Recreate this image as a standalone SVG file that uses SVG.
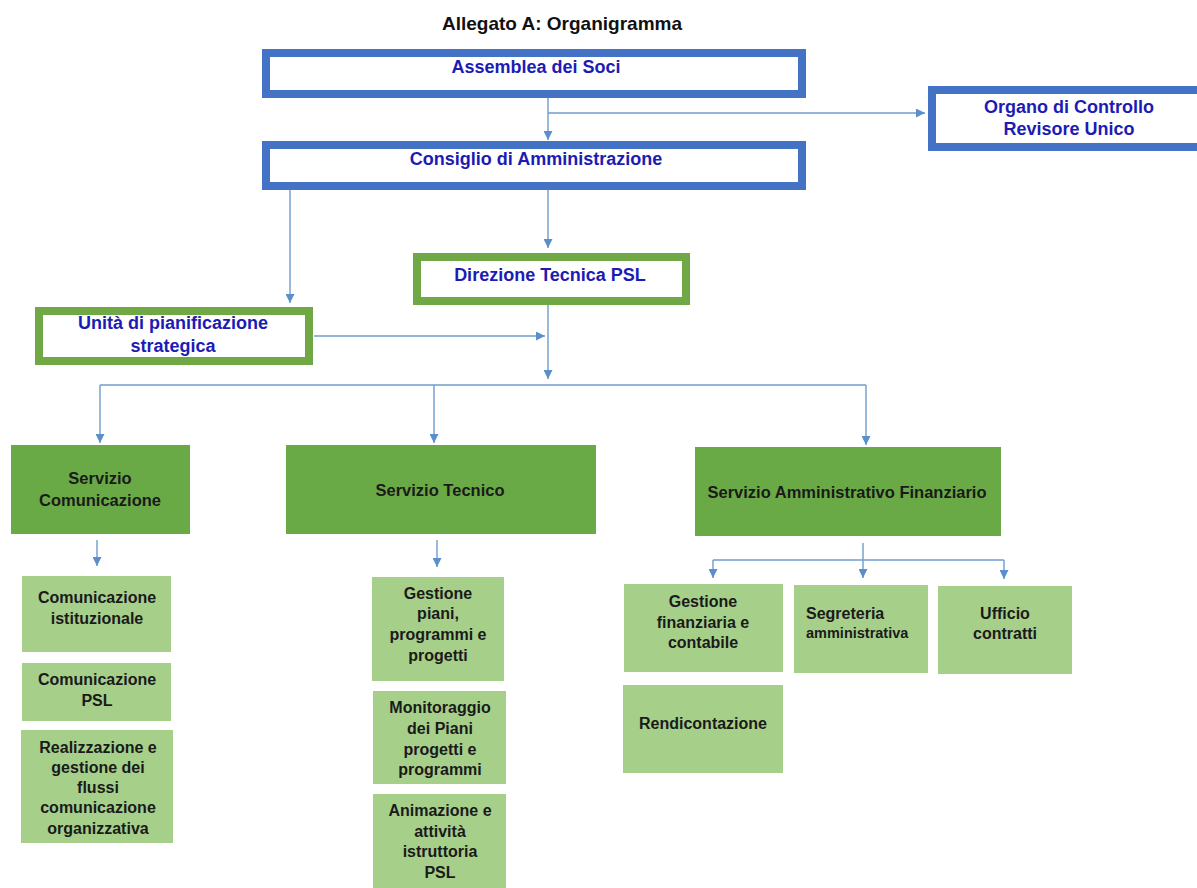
<svg xmlns="http://www.w3.org/2000/svg" width="1197" height="888" viewBox="0 0 1197 888">
<style>
text{font-family:"Liberation Sans",Arial,sans-serif;font-weight:bold;text-anchor:middle}
.title{font-size:19px;fill:#111}
.bt{font-size:18px;fill:#1c1cb4}
.blue{fill:#fff;stroke:#4472c4;stroke-width:8}
.gout{fill:#fff;stroke:#6fa844;stroke-width:8}
.svc{fill:#6aaa46}
.leaf{fill:#a6cf8a}
.st{font-size:16.5px;fill:#1a1a1a}
.lt{font-size:16px;fill:#1a1a1a}
.c{fill:none;stroke:#6e9ccc;stroke-width:1.4}
</style>
<defs>
<marker id="ah" viewBox="0 0 10 10" refX="10" refY="5" markerWidth="9" markerHeight="9" markerUnits="userSpaceOnUse" orient="auto">
<path d="M0,0 L10,5 L0,10 z" fill="#5b8fc9"/>
</marker>
</defs>
<rect width="1197" height="888" fill="#fff"/>
<text class="title" x="562" y="30">Allegato A: Organigramma</text>

<g id="connectors">
<path class="c" d="M548,98 V140" marker-end="url(#ah)"/>
<path class="c" d="M548,113 H925" marker-end="url(#ah)"/>
<path class="c" d="M290,190 V303" marker-end="url(#ah)"/>
<path class="c" d="M548,190 V248" marker-end="url(#ah)"/>
<path class="c" d="M548,305 V379" marker-end="url(#ah)"/>
<path class="c" d="M314,336 H545" marker-end="url(#ah)"/>
<path class="c" d="M100,385 H866"/>
<path class="c" d="M100,385 V443" marker-end="url(#ah)"/>
<path class="c" d="M434,385 V443" marker-end="url(#ah)"/>
<path class="c" d="M866,385 V445" marker-end="url(#ah)"/>
<path class="c" d="M97,540 V566" marker-end="url(#ah)"/>
<path class="c" d="M437,540 V567" marker-end="url(#ah)"/>
<path class="c" d="M863,543 V578" marker-end="url(#ah)"/>
<path class="c" d="M713,560 H1004"/>
<path class="c" d="M713,560 V578" marker-end="url(#ah)"/>
<path class="c" d="M1004,560 V579" marker-end="url(#ah)"/>
</g>

<g id="assemblea"><rect class="blue" x="266" y="53" width="536" height="41"/><text class="bt" x="536" y="73">Assemblea dei Soci</text></g>
<g id="consiglio"><rect class="blue" x="266" y="145" width="536" height="41"/><text class="bt" x="536" y="165">Consiglio di Amministrazione</text></g>
<g id="organo"><rect class="blue" x="932" y="90" width="273" height="57"/><text class="bt" x="1069" y="113">Organo di Controllo</text><text class="bt" x="1069" y="135">Revisore Unico</text></g>
<g id="direzione"><rect class="gout" x="417" y="257" width="269" height="44"/><text class="bt" x="550" y="281">Direzione Tecnica PSL</text></g>
<g id="unita"><rect class="gout" x="39" y="311" width="270" height="50"/><text class="bt" x="173" y="329">Unità di pianificazione</text><text class="bt" x="173" y="352">strategica</text></g>

<g id="serv-com"><rect class="svc" x="11" y="445" width="179" height="89"/><text class="st" x="100" y="484">Servizio</text><text class="st" x="100" y="506">Comunicazione</text></g>
<g id="serv-tec"><rect class="svc" x="286" y="445" width="310" height="89"/><text class="st" x="440" y="496">Servizio Tecnico</text></g>
<g id="serv-amm"><rect class="svc" x="695" y="447" width="306" height="89"/><text class="st" x="847" y="498">Servizio Amministrativo Finanziario</text></g>

<g id="com-ist"><rect class="leaf" x="22" y="576" width="149" height="76"/><text class="lt" x="97" y="603">Comunicazione</text><text class="lt" x="97" y="624">istituzionale</text></g>
<g id="com-psl"><rect class="leaf" x="22" y="663" width="149" height="58"/><text class="lt" x="97" y="685">Comunicazione</text><text class="lt" x="97" y="706">PSL</text></g>
<g id="realizzazione"><rect class="leaf" x="21" y="730" width="152" height="113"/><text class="lt" x="98" y="753">Realizzazione e</text><text class="lt" x="98" y="773">gestione dei</text><text class="lt" x="98" y="793">flussi</text><text class="lt" x="98" y="813">comunicazione</text><text class="lt" x="98" y="834">organizzativa</text></g>

<g id="gestione-piani"><rect class="leaf" x="372" y="577" width="132" height="104"/><text class="lt" x="438" y="599">Gestione</text><text class="lt" x="438" y="619">piani,</text><text class="lt" x="438" y="640">programmi e</text><text class="lt" x="438" y="661">progetti</text></g>
<g id="monitoraggio"><rect class="leaf" x="373" y="691" width="133" height="93"/><text class="lt" x="440" y="713">Monitoraggio</text><text class="lt" x="440" y="734">dei Piani</text><text class="lt" x="440" y="755">progetti e</text><text class="lt" x="440" y="775">programmi</text></g>
<g id="animazione"><rect class="leaf" x="373" y="794" width="133" height="94"/><text class="lt" x="440" y="816">Animazione e</text><text class="lt" x="440" y="837">attività</text><text class="lt" x="440" y="857">istruttoria</text><text class="lt" x="440" y="878">PSL</text></g>

<g id="gestione-fin"><rect class="leaf" x="624" y="584" width="159" height="88"/><text class="lt" x="703" y="607">Gestione</text><text class="lt" x="703" y="628">finanziaria e</text><text class="lt" x="703" y="648">contabile</text></g>
<g id="segreteria"><rect class="leaf" x="794" y="585" width="134" height="88"/><text class="lt" x="806" y="619" style="text-anchor:start">Segreteria</text><text class="lt" x="806" y="638" style="text-anchor:start;font-size:14.5px">amministrativa</text></g>
<g id="ufficio"><rect class="leaf" x="938" y="586" width="134" height="88"/><text class="lt" x="1005" y="619">Ufficio</text><text class="lt" x="1005" y="639">contratti</text></g>
<g id="rendicontazione"><rect class="leaf" x="623" y="685" width="160" height="88"/><text class="lt" x="703" y="729">Rendicontazione</text></g>
</svg>
